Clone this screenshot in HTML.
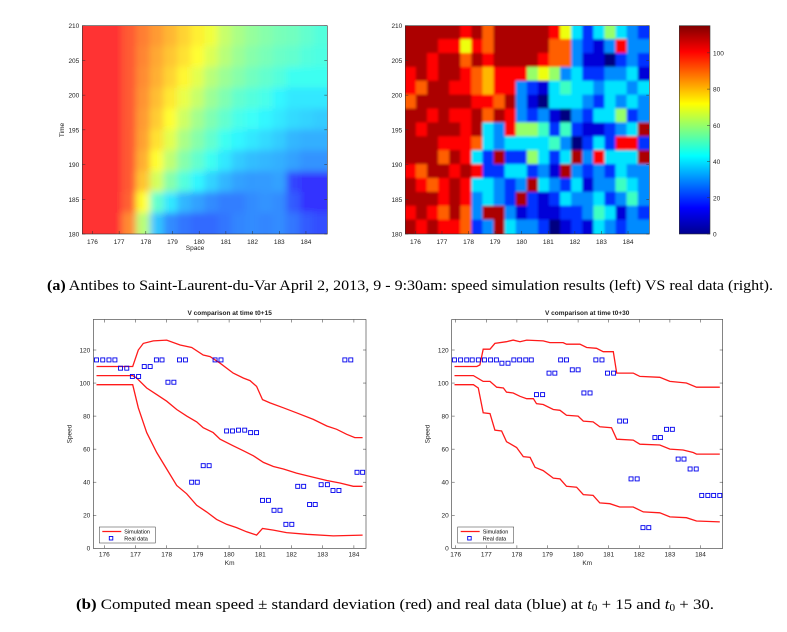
<!DOCTYPE html>
<html><head><meta charset="utf-8"><style>
body{margin:0;background:#fff;}
svg{display:block;font-family:"Liberation Sans",sans-serif;}
.cap{font-family:"Liberation Serif",serif;font-size:15px;fill:#000;}
.tk2{font-size:6.5px;fill:#222;}
</style></head><body>
<svg id="fig" width="787" height="632" viewBox="0 0 787 632">
<defs>
<filter id="blurL" x="-0.1" y="-0.1" width="1.2" height="1.2"><feGaussianBlur stdDeviation="3.5"/></filter>
<filter id="blurR" x="-0.1" y="-0.1" width="1.2" height="1.2"><feGaussianBlur stdDeviation="1.3"/></filter>
<clipPath id="clipL"><rect x="82.3" y="25.7" width="245" height="208.3"/></clipPath>
<clipPath id="clipR"><rect x="405.3" y="25.7" width="244" height="208.3"/></clipPath>
<linearGradient id="jetGrad" x1="0" y1="1" x2="0" y2="0">
<stop offset="0" stop-color="#00008f"/><stop offset="0.125" stop-color="#0000ff"/><stop offset="0.375" stop-color="#00ffff"/><stop offset="0.625" stop-color="#ffff00"/><stop offset="0.875" stop-color="#ff0000"/><stop offset="1" stop-color="#800000"/>
</linearGradient>
</defs>
<g id="simMap"></g>
<g id="realMap"></g>
<g id="chart1"></g>
<g id="chart2"></g>
<text class="cap" x="47" y="290" textLength="726" lengthAdjust="spacingAndGlyphs"><tspan font-weight="bold">(a)</tspan> Antibes to Saint-Laurent-du-Var April 2, 2013, 9 - 9:30am: speed simulation results (left) VS real data (right).</text>
<text class="cap" x="76" y="609" textLength="638" lengthAdjust="spacingAndGlyphs"><tspan font-weight="bold">(b)</tspan> Computed mean speed ± standard deviation (red) and real data (blue) at <tspan font-style="italic">t</tspan><tspan font-size="10" dy="2">0</tspan><tspan dy="-2"> + 15 and </tspan><tspan font-style="italic">t</tspan><tspan font-size="10" dy="2">0</tspan><tspan dy="-2"> + 30.</tspan></text>
</svg>
<script>
// ---------- data ----------
const simSpeed = [ // rows t=208.5 .. 181.5 (3 min), 18 columns 175.85 .. 184.5 km
[100,100,100,95,90,86,82,78,74,70,64,60,57,55,53,52,50,48],
[100,100,100,95,89,84,80,76,72,67,62,58,55,53,51,50,48,47],
[100,100,100,95,88,83,78,73,68,62,58,55,52,50,48,45,45,45],
[100,100,100,95,87,81,75,69,64,58,54,50,48,46,42,40,40,40],
[100,100,100,95,86,79,72,65,59,54,50,46,44,42,40,38,37,36],
[100,100,100,95,85,76,68,60,55,50,45,42,40,38,36,33,32,32],
[100,100,100,95,83,72,63,55,50,45,40,36,34,33,32,30,28,28],
[100,100,100,95,80,66,55,48,42,37,33,30,29,29,30,17,15,15],
[100,100,100,94,72,50,40,33,30,27,25,25,27,28,27,20,15,15],
[100,100,100,88,62,35,27,24,22,22,24,26,27,26,27,24,20,18]
];
const realTens = [ // rows t=209..181 (2 min), 22 columns; speed in tens
[11,11,11,11,11,10,11,9,11,11,11,11,11,10,7,4,2,4,6,4,3,2],
[11,11,11,10,10,7,10,9,11,11,11,11,11,9,9,3,2,1,3,10,3,3],
[11,11,10,11,11,9,11,10,11,11,11,11,10,9,9,3,1,1,0,2,3,2],
[10,11,10,11,11,10,9,8,10,10,10,6,7,6,3,4,2,2,3,3,4,1],
[10,9,11,11,10,10,9,8,10,10,3,2,1,4,5,4,4,3,4,4,3,4],
[9,11,11,11,11,11,10,10,9,11,3,1,0,4,4,4,3,2,4,3,4,3],
[11,11,10,11,10,10,11,9,11,10,3,2,3,1,0,3,2,4,4,6,2,3],
[11,10,11,11,11,10,11,4,3,10,6,6,5,2,5,2,1,1,2,3,4,11],
[11,11,11,10,10,10,9,4,3,4,4,4,4,5,3,0,2,4,2,10,10,2],
[11,11,11,9,11,10,4,2,11,2,2,6,4,2,4,11,3,10,4,4,4,11],
[10,9,11,11,10,11,10,2,2,4,4,2,3,1,11,3,2,3,2,4,3,3],
[11,10,9,10,11,10,4,4,3,2,3,11,4,3,2,4,1,3,3,5,4,3],
[11,11,11,10,11,10,3,4,3,2,11,2,1,2,4,3,3,4,2,3,5,3],
[10,11,10,9,11,9,3,11,11,3,1,2,1,1,2,2,3,5,4,1,3,2],
[11,10,11,10,10,9,2,3,11,4,3,3,2,0,1,2,1,4,3,2,3,3]
];
const heatXTicks = [176,177,178,179,180,181,182,183,184];
const heatYTicks = [180,185,190,195,200,205,210];
const cbTicks = [0,20,40,60,80,100];

// chart 1 (t0+15)
const c1UpX = [175.75,176.91,177.09,177.25,177.57,178.0,178.43,178.8,179.17,179.39,179.71,180.13,180.46,180.67,180.88,181.07,181.31,181.74,182.16,182.7,183.13,183.45,183.77,184.03,184.28];
const c1UpY = [110,110,120,124,125.5,126,123,121.5,117,116,112,106,103,101.5,98,90,88,85,82,78,74,72,69,67,67];
const c1MidX = [175.75,176.91,177.04,177.36,177.68,178.0,178.32,178.64,178.96,179.17,179.49,179.71,180.13,180.46,180.78,181.1,181.42,181.74,182.16,182.7,183.13,183.55,183.98,184.28];
const c1MidY = [104.5,104.5,103,97,93,89,84,80,76.5,73,70,66,62,59,56,52,49.5,48,45.5,43,41,39.5,37.5,37.5];
const c1LowX = [175.75,176.91,177.09,177.36,177.68,178.0,178.32,178.64,178.96,179.28,179.6,179.92,180.24,180.56,180.88,181.07,181.42,181.84,182.49,183.34,184.28];
const c1LowY = [99,99,85,70,58,48,38,33,26,22,17.5,14.5,12.5,10,8,12,11,9.5,8.5,7.5,8];
const c1DataX = [175.75,175.95,176.15,176.34,176.52,176.72,176.9,177.1,177.28,177.47,177.67,177.85,178.04,178.23,178.41,178.6,179.55,179.74,178.8,178.98,179.17,179.36,179.92,180.11,180.3,180.5,180.69,180.88,181.07,181.26,181.44,181.63,181.82,182.01,182.2,182.39,182.58,182.76,182.95,183.15,183.33,183.52,183.71,183.9,184.1,184.28];
const c1DataY = [114,114,114,114,109,109,104,104,110,110,114,114,100.5,100.5,114,114,114,114,40,40,50,50,71,71,71.5,71.5,70,70,29,29,23,23,14.5,14.5,37.5,37.5,26.5,26.5,38.5,38.5,35,35,114,114,46,46];

// chart 2 (t0+30)
const c2UpX = [175.96,176.69,176.79,176.9,177.12,177.28,177.66,177.88,178.1,178.32,178.86,179.08,179.51,179.62,180.06,180.28,180.6,180.82,181.15,181.26,181.8,182.02,182.67,183.0,183.54,183.87,184.63];
const c2UpY = [110,110,111,120.5,120.5,124,125,126,125,126,125.5,124.5,124.5,123.5,123.5,121.5,121,119,119,106,106,104,103.5,101,100,97.5,97.5];
const c2MidX = [175.96,176.58,176.9,177.12,177.34,177.56,177.66,177.88,178.1,178.32,178.54,178.64,178.86,179.19,179.41,179.62,180.0,180.17,180.49,180.71,181.09,181.26,181.8,182.02,182.67,183.0,183.43,183.76,183.87,184.63];
const c2MidY = [104.5,104.5,101,101,97.5,97,94.5,94,92,90.5,90.5,87.5,87,84,83.5,80.5,80,77,76.5,73.5,73,66,65.5,63,62.5,60,59.5,58,57,57];
const c2LowX = [175.96,176.58,176.74,176.9,177.12,177.28,177.5,177.66,177.99,178.21,178.43,178.59,178.86,179.19,179.41,179.62,179.95,180.17,180.49,180.71,181.04,181.36,181.8,182.13,182.67,183.0,183.54,183.87,184.63];
const c2LowY = [99,99,97,82,81.5,71.5,71,64.5,61,55.5,55,49,47,42.5,42,37.5,37,32.5,32,27.5,27,25,25,22,21.5,19,18.5,16.5,16];
const c2DataX = [175.96,176.16,176.36,176.54,176.74,176.94,177.14,177.33,177.51,177.71,177.9,178.09,178.29,178.47,178.64,178.84,179.05,179.24,179.43,179.62,179.81,180.0,180.19,180.39,180.58,180.78,180.96,181.16,181.36,181.55,181.73,181.93,182.12,182.31,182.51,182.69,182.89,183.08,183.27,183.46,183.66,183.86,184.04,184.24,184.43,184.63];
const c2DataY = [114,114,114,114,114,114,114,114,112,112,114,114,114,114,93,93,106,106,114,114,108,108,94,94,114,114,106,106,77,77,42,42,12.5,12.5,67,67,72,72,54,54,48,48,32,32,32,32];
const speedTicks = [0,20,40,60,80,100,120];
const kmTicks = [176,177,178,179,180,181,182,183,184];

// ---------- helpers ----------
const NS = "http://www.w3.org/2000/svg";
function mk(tag, attrs, parent){const e=document.createElementNS(NS,tag);for(const k in attrs)e.setAttribute(k,attrs[k]);parent.appendChild(e);return e;}
function jet(v,max){let x=Math.max(0,Math.min(1,v/max));const c=t=>Math.round(255*Math.max(0,Math.min(1,1.5-Math.abs(4*x-t))));return `rgb(${c(3)},${c(2)},${c(1)})`;}
function lin(d0,d1,r0,r1){return v=>r0+(v-d0)*(r1-r0)/(d1-d0);}

// ---------- heatmaps ----------
const hx0=175.62,hx1=184.8;
const hyT=25.7,hyB=234;
const ht=lin(180,210,hyB,hyT);
function heat(gid,left,right,rows,scaleV,blur,clip,opacity,cellsName){
  const g=document.getElementById(gid);
  const hx=lin(hx0,hx1,left,right);
  const inner=mk('g',{'clip-path':`url(#${clip})`,opacity:opacity},g);
  const cg=mk('g',{filter:`url(#${blur})`},inner);
  const nr=rows.length,nc=rows[0].length;
  const dk=(hx1-hx0)/nc, dt=30/nr;
  const pad=12;
  rows.forEach((row,i)=>row.forEach((v,j)=>{
    const k0=hx0+j*dk, t1=210-i*dt;
    let x0=hx(k0)-0.5, x1=hx(k0+dk)+0.5, y0=ht(t1)-0.5, y1=ht(t1-dt)+0.5;
    if(j===0)x0-=pad; if(j===nc-1)x1+=pad; if(i===0)y0-=pad; if(i===nr-1)y1+=pad;
    const r=mk('rect',{x:x0,y:y0,width:x1-x0,height:y1-y0,fill:jet(v*scaleV,115)},cg);
    
    
  }));
  mk('rect',{x:left,y:hyT,width:right-left,height:hyB-hyT,fill:'none',stroke:'#333','stroke-width':0.6},g);
  heatXTicks.forEach(k=>{
    const x=hx(k);
    mk('line',{x1:x,y1:hyB,x2:x,y2:hyB-3,stroke:'#333','stroke-width':0.5},g);
    const t=mk('text',{x:x,y:hyB+10,'text-anchor':'middle',class:'tk2'},g);t.textContent=k;
    
    
  });
  heatYTicks.forEach(v=>{
    const y=ht(v);
    mk('line',{x1:left,y1:y,x2:left+3,y2:y,stroke:'#333','stroke-width':0.5},g);
    mk('line',{x1:right,y1:y,x2:right-3,y2:y,stroke:'#333','stroke-width':0.5},g);
    const t=mk('text',{x:left-3,y:y+2.5,'text-anchor':'end',class:'tk2'},g);t.textContent=v;
    
    
  });
}
heat('simMap',82.3,327.3,simSpeed,1,'blurL','clipL',0.8,'sim-cell');
heat('realMap',405.3,649.3,realTens,10,'blurR','clipR',1,'real-cell');
{
  const g=document.getElementById('simMap');
  const a=mk('text',{x:195,y:250,'text-anchor':'middle',class:'tk2'},g);a.textContent='Space';
  
  
  const b=mk('text',{x:0,y:0,'text-anchor':'middle',class:'tk2',transform:'translate(64,130) rotate(-90)'},g);b.textContent='Time';
  
  
  const r=document.getElementById('realMap');
  const cb=mk('rect',{x:679.3,y:25.7,width:30.7,height:208.3,fill:'url(#jetGrad)',stroke:'#333','stroke-width':0.6},r);
  
  
  const cy=lin(0,115,234,25.7);
  cbTicks.forEach(v=>{
    const y=cy(v);
    mk('line',{x1:710,y1:y,x2:707,y2:y,stroke:'#333','stroke-width':0.5},r);
    const t=mk('text',{x:713,y:y+2.5,class:'tk2'},r);t.textContent=v;
    
    
  });
}

// ---------- line charts ----------
function chart(gid,L,R,kmAt176,pxPerKm,title,lines,dx,dy){
  const g=document.getElementById(gid);
  const T=319.5,B=548.3;
  const x=v=>kmAt176+(v-176)*pxPerKm;
  const y=lin(0,120,B,350);
  mk('rect',{x:L,y:T,width:R-L,height:B-T,fill:'#fff',stroke:'#333','stroke-width':0.6},g);
  kmTicks.forEach(k=>{
    const px=x(k);
    mk('line',{x1:px,y1:B,x2:px,y2:B-3,stroke:'#333','stroke-width':0.5},g);
    mk('line',{x1:px,y1:T,x2:px,y2:T+3,stroke:'#333','stroke-width':0.5},g);
    const t=mk('text',{x:px,y:B+8,'text-anchor':'middle',class:'tk2'},g);t.textContent=k;
    
    
  });
  speedTicks.forEach(v=>{
    const py=y(v);
    mk('line',{x1:L,y1:py,x2:L+3,y2:py,stroke:'#333','stroke-width':0.5},g);
    mk('line',{x1:R,y1:py,x2:R-3,y2:py,stroke:'#333','stroke-width':0.5},g);
    const t=mk('text',{x:L-3,y:py+2.3,'text-anchor':'end',class:'tk2'},g);t.textContent=v;
    
    
  });
  const tt=mk('text',{x:(L+R)/2,y:315,'text-anchor':'middle',class:'tk2','font-weight':'bold'},g);tt.textContent=title;
  
  
  const xl=mk('text',{x:(L+R)/2,y:565,'text-anchor':'middle',class:'tk2'},g);xl.textContent='Km';
  
  
  const yl=mk('text',{x:0,y:0,'text-anchor':'middle',class:'tk2',transform:`translate(${L-22},434) rotate(-90)`},g);yl.textContent='Speed';
  
  
  const names=['upper-std-line','mean-line','lower-std-line'];
  lines.forEach((ln,i)=>{
    const p=mk('polyline',{points:ln[0].map((k,j)=>x(k).toFixed(1)+','+y(ln[1][j]).toFixed(1)).join(' '),fill:'none',stroke:'#ff1a1a','stroke-width':1.3},g);
    
    
  });
  dx.forEach((k,i)=>{
    const r=mk('rect',{x:x(k)-2,y:y(dy[i])-2,width:4,height:4,fill:'none',stroke:'#0000ee','stroke-width':0.9},g);
    
    
  });
  const lx=L+6;
  const lg=mk('g',{},g);
  
  
  mk('rect',{x:lx,y:527,width:56,height:16,fill:'#fff',stroke:'#333','stroke-width':0.5},lg);
  mk('line',{x1:lx+3,y1:531.5,x2:lx+22,y2:531.5,stroke:'#ff1a1a','stroke-width':1.3},lg);
  mk('rect',{x:lx+10,y:536.5,width:3.5,height:3.5,fill:'none',stroke:'#0000ee','stroke-width':0.9},lg);
  const a=mk('text',{x:lx+25,y:533.5,style:'font-size:5.5px'},lg);a.textContent='Simulation';
  
  
  const b=mk('text',{x:lx+25,y:540.5,style:'font-size:5.5px'},lg);b.textContent='Real data';
  
  
}
chart('chart1',93.3,366,104.3,31.2,'V comparison at time t0+15',[[c1UpX,c1UpY],[c1MidX,c1MidY],[c1LowX,c1LowY]],c1DataX,c1DataY);
chart('chart2',451.7,722.7,455.7,30.6,'V comparison at time t0+30',[[c2UpX,c2UpY],[c2MidX,c2MidY],[c2LowX,c2LowY]],c2DataX,c2DataY);
</script>
</body></html>
